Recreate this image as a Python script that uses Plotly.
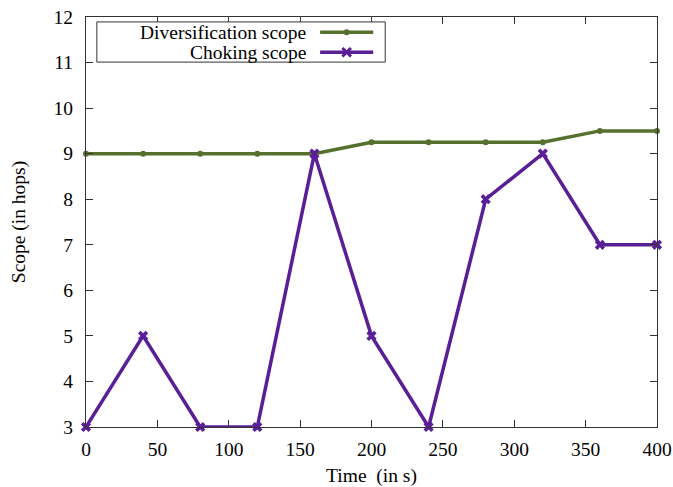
import plotly.graph_objects as go

# Scope measurements over time
time_s = [0, 40, 80, 120, 160, 200, 240, 280, 320, 360, 400]
diversification_scope = [9, 9, 9, 9, 9, 9.25, 9.25, 9.25, 9.25, 9.5, 9.5]
choking_scope = [3, 5, 3, 3, 9, 5, 3, 8, 9, 7, 7]

x_ticks = [0, 50, 100, 150, 200, 250, 300, 350, 400]
y_ticks = [3, 4, 5, 6, 7, 8, 9, 10, 11, 12]

GREEN = "#56702E"
PURPLE = "#5A1E96"
FONT = "Liberation Serif, Times New Roman, serif"
FS = 19.5

fig = go.Figure()
fig.add_trace(go.Scatter(
    x=time_s, y=diversification_scope, mode="lines+markers",
    line=dict(color=GREEN, width=3.5),
    marker=dict(symbol="circle", size=6, color=GREEN),
    showlegend=False, cliponaxis=False,
))
fig.add_trace(go.Scatter(
    x=time_s, y=choking_scope, mode="lines+markers",
    line=dict(color=PURPLE, width=3.5),
    marker=dict(symbol="x", size=9, color=PURPLE),
    showlegend=False, cliponaxis=False,
))

axis_common = dict(
    showgrid=False, zeroline=False, showline=True, linecolor="#333333",
    linewidth=1, mirror="ticks", ticks="inside", ticklen=7, automargin=False,
    tickcolor="#333333", tickfont=dict(family=FONT, size=FS, color="black"),
)
fig.update_xaxes(range=[0, 400], tickvals=x_ticks, ticklabelstandoff=5,
                 title=dict(text="Time  (in s)", font=dict(family=FONT, size=FS, color="black"), standoff=16),
                 **axis_common)
fig.update_yaxes(range=[3, 12], tickvals=y_ticks, ticklabelstandoff=8,
                 title=dict(text="Scope (in hops)", font=dict(family=FONT, size=FS, color="black"), standoff=22),
                 **axis_common)

# Key box with labels on the left and samples on the right
shapes = [dict(type="rect", xref="paper", yref="paper", x0=0.019, x1=0.524, y0=0.89, y1=0.988,
               line=dict(color="#333333", width=1), fillcolor="white")]
annotations = []
entries = [("Diversification scope", GREEN, "circle", 0.963), ("Choking scope", PURPLE, "x", 0.914)]
for label, color, sym, yy in entries:
    annotations.append(dict(text=label, xref="paper", yref="paper", x=0.389, y=yy,
                            xanchor="right", yanchor="middle", showarrow=False,
                            font=dict(family=FONT, size=FS, color="black")))
    shapes.append(dict(type="line", xref="paper", yref="paper", x0=0.41, x1=0.503, y0=yy, y1=yy,
                       line=dict(color=color, width=3.5)))
    cx = 0.4565
    if sym == "circle":
        shapes.append(dict(type="circle", xref="paper", yref="paper",
                           x0=cx - 0.0053, x1=cx + 0.0053, y0=yy - 0.0073, y1=yy + 0.0073,
                           fillcolor=color, line=dict(color=color, width=0)))
    else:
        dx, dy = 0.0075, 0.0105
        shapes.append(dict(type="path", xref="paper", yref="paper",
                           path=f"M {cx-dx} {yy-dy} L {cx+dx} {yy+dy} M {cx-dx} {yy+dy} L {cx+dx} {yy-dy}",
                           line=dict(color=color, width=3)))

fig.update_layout(
    width=673, height=487,
    margin=dict(l=86, r=16, t=17, b=60),
    paper_bgcolor="white", plot_bgcolor="white",
    shapes=shapes, annotations=annotations,
    font=dict(family=FONT, color="black"),
)

fig.write_html("out.html")
